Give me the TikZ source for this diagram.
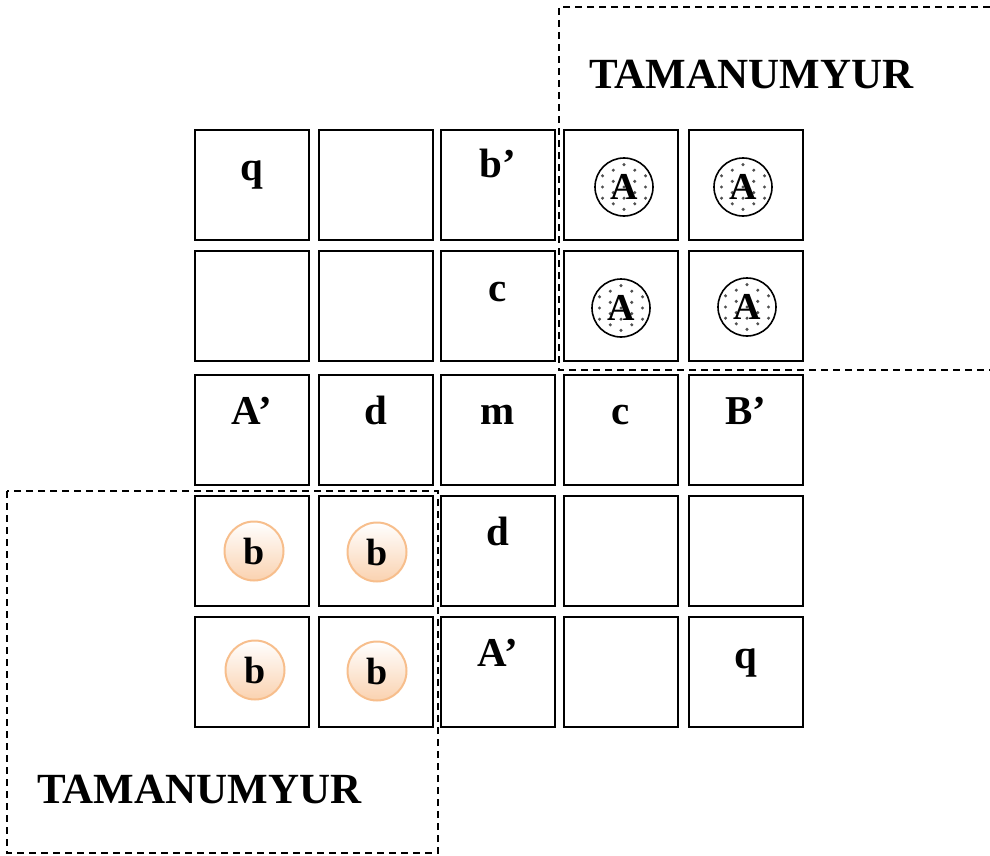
\documentclass[tikz,border=0pt]{standalone}
\usepackage{fontspec}
\setmainfont{Liberation Serif}
\usetikzlibrary{positioning}

\definecolor{peach}{RGB}{250,210,176}
\definecolor{peachline}{RGB}{247,190,140}
\definecolor{dotgray}{RGB}{80,80,80}

\tikzset{
  cell/.style={draw, line width=1.8pt, minimum width=114pt, minimum height=110pt, inner sep=0pt},
  lbl/.style={font=\fontsize{41}{44}\selectfont\bfseries, anchor=base, inner sep=0pt},
  title/.style={font=\fontsize{43}{46}\selectfont\bfseries, anchor=base west, inner sep=0pt},
  zone/.style={line width=1.4pt, dash pattern=on 7pt off 5pt},
  spot/.style={circle, draw, line width=1.6pt, minimum size=58pt, inner sep=0pt,
    font=\fontsize{38}{40}\selectfont\bfseries,
    path picture={
      \foreach \j in {-5,...,5} \foreach \i in {-2,...,2} {
        \pgfmathsetmacro\dx{\i*21.5+10.75*mod(abs(\j),2)}
        \fill[dotgray] ([shift={(\dx pt,\j*5.6pt)}]path picture bounding box.center) circle (1.7pt);
      }
    }},
  bubble/.style={circle, draw=peachline, line width=2pt, top color=white, bottom color=peach,
    minimum size=59pt, inner sep=0pt, font=\fontsize{38}{40}\selectfont\bfseries}
}

\begin{document}
\begin{tikzpicture}[x=1pt,y=-1pt]
\useasboundingbox (0,0) rectangle (990,856);

\draw[zone] (990,7) -- (559,7) -- (559,370) -- (990,370);
\draw[zone] (7,491) rectangle (438,853);

\foreach \c/\x in {1/252,2/376,3/498,4/621,5/746}
  \foreach \r/\y in {1/185,2/306,3/430,4/551,5/672}
    \node[cell] (c\r\c) at (\x,\y) {};

\node[title] (ttop) at (589,89) {TAMANUMYUR};
\node[title] (tbot) at (37,803) {TAMANUMYUR};

\node[lbl] (q1) at ([yshift=5pt]c11.center) {q};
\node[lbl] (bp) at ([yshift=8pt]c13.center) {b'};
\node[lbl] (c1) at ([yshift=5pt]c23.center) {c};
\node[lbl] (ap1) at ([yshift=6pt]c31.center) {A'};
\node[lbl] (d1) at ([yshift=6pt]c32.center) {d};
\node[lbl] (m1) at ([yshift=6pt]c33.center) {m};
\node[lbl] (c2) at ([yshift=6pt]c34.center) {c};
\node[lbl] (bq) at ([yshift=6pt]c35.center) {B'};
\node[lbl] (d2) at ([yshift=6pt]c43.center) {d};
\node[lbl] (ap2) at ([yshift=6pt]c53.center) {A'};
\node[lbl] (q2) at ([yshift=4pt]c55.center) {q};

\node[spot] (s1) at (624,187) {A};
\node[spot] (s2) at (743,187) {A};
\node[spot] (s3) at (621,308) {A};
\node[spot] (s4) at (747,307) {A};

\node[bubble] (b1) at (254,551) {b};
\node[bubble] (b2) at (377,552) {b};
\node[bubble] (b3) at (255,670) {b};
\node[bubble] (b4) at (377,671) {b};
\end{tikzpicture}
\end{document}
